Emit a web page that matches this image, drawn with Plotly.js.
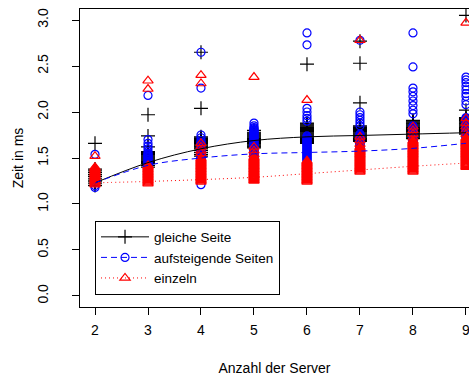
<!DOCTYPE html>
<html>
<head>
<meta charset="utf-8">
<script src="https://cdn.plot.ly/plotly-3.0.1.min.js"></script>
<style>html,body{margin:0;padding:0;background:#fff;}#chart{width:469px;height:376px;}</style>
</head>
<body>
<div id="chart"></div>
<script>
const serverCounts = [2, 3, 4, 5, 6, 7, 8, 9];
const seriesNames = ["gleiche Seite", "aufsteigende Seiten", "einzeln"];

// measured times (ms) per server count
const gleicheSeite = [
  [1.66, 1.38, 1.36, 1.34, 1.32, 1.30, 1.28, 1.26, 1.24, 1.22, 1.20],
  [1.97, 1.74, 1.62, 1.57, 1.56, 1.55, 1.54, 1.53, 1.52, 1.51, 1.50, 1.49, 1.48, 1.47, 1.46, 1.45, 1.44, 1.42, 1.40],
  [2.65, 2.04, 1.73, 1.72, 1.71, 1.70, 1.69, 1.68, 1.67, 1.66, 1.65, 1.64, 1.63, 1.62, 1.61, 1.60, 1.58, 1.56, 1.54, 1.52],
  [1.80, 1.78, 1.77, 1.76, 1.75, 1.74, 1.73, 1.72, 1.71, 1.70, 1.69, 1.68, 1.67, 1.66, 1.65, 1.64, 1.63, 1.62, 1.61],
  [2.52, 1.88, 1.87, 1.86, 1.85, 1.84, 1.83, 1.82, 1.81, 1.80, 1.79, 1.78, 1.77, 1.76, 1.75, 1.74, 1.73, 1.72, 1.71, 1.70, 1.69, 1.68, 1.67, 1.66],
  [2.77, 2.53, 2.10, 1.85, 1.84, 1.83, 1.82, 1.81, 1.80, 1.79, 1.78, 1.77, 1.76, 1.75, 1.74, 1.73, 1.72, 1.71, 1.70, 1.69, 1.68],
  [1.91, 1.90, 1.89, 1.88, 1.87, 1.86, 1.85, 1.84, 1.83, 1.82, 1.81, 1.80, 1.79, 1.78, 1.77, 1.76, 1.75, 1.74, 1.73, 1.72, 1.71],
  [3.05, 2.02, 1.94, 1.93, 1.92, 1.91, 1.90, 1.89, 1.88, 1.87, 1.86, 1.85, 1.84, 1.83, 1.82, 1.81, 1.80, 1.79, 1.78, 1.77, 1.76]
];
const aufsteigendeSeiten = [
  [1.54, 1.18, 1.20, 1.23, 1.26],
  [2.18, 1.70, 1.66, 1.63, 1.60, 1.57, 1.55, 1.54, 1.53, 1.52, 1.51, 1.50, 1.49, 1.48, 1.47, 1.46, 1.45, 1.44, 1.43, 1.42],
  [2.65, 2.26, 1.75, 1.72, 1.69, 1.67, 1.66, 1.65, 1.64, 1.63, 1.62, 1.61, 1.60, 1.59, 1.58, 1.57, 1.56, 1.55, 1.54, 1.53, 1.52, 1.51, 1.50, 1.49, 1.48, 1.47, 1.46, 1.45, 1.21],
  [1.88, 1.85, 1.83, 1.82, 1.81, 1.80, 1.79, 1.78, 1.77, 1.76, 1.75, 1.74, 1.73, 1.72, 1.71, 1.70, 1.69, 1.68, 1.67, 1.66, 1.65, 1.64, 1.63, 1.62, 1.61, 1.60, 1.59, 1.58, 1.57, 1.56, 1.55, 1.54, 1.53, 1.52, 1.51, 1.50, 1.49],
  [2.86, 2.73, 2.04, 2.00, 1.96, 1.93, 1.90, 1.74, 1.73, 1.72, 1.71, 1.70, 1.69, 1.68, 1.67, 1.66, 1.65, 1.64, 1.63, 1.62, 1.61, 1.60, 1.59, 1.58, 1.57, 1.56, 1.55, 1.54, 1.53, 1.52, 1.51, 1.50, 1.49, 1.48, 1.47],
  [2.78, 2.00, 1.97, 1.94, 1.91, 1.88, 1.85, 1.76, 1.75, 1.74, 1.73, 1.72, 1.71, 1.70, 1.69, 1.68, 1.67, 1.66, 1.65, 1.64, 1.63, 1.62, 1.61, 1.60, 1.59, 1.58],
  [2.86, 2.49, 2.26, 2.22, 2.17, 2.12, 2.07, 2.02, 1.98, 1.85, 1.84, 1.83, 1.82, 1.81, 1.80, 1.79, 1.78, 1.77, 1.76, 1.75, 1.74, 1.73, 1.72, 1.71, 1.70, 1.69, 1.68, 1.67, 1.66, 1.65, 1.64, 1.63],
  [2.38, 2.35, 2.32, 2.28, 2.24, 2.20, 2.17, 2.12, 2.08, 1.94, 1.93, 1.92, 1.91, 1.90, 1.89, 1.88, 1.87, 1.86, 1.85, 1.84, 1.83, 1.82, 1.81, 1.80, 1.79, 1.78, 1.77, 1.76, 1.75, 1.74, 1.73, 1.72]
];
const einzeln = [
  [1.52, 1.40, 1.39, 1.38, 1.37, 1.36, 1.35, 1.34, 1.33, 1.32, 1.31, 1.30, 1.29, 1.28, 1.27, 1.26, 1.25, 1.24, 1.23, 1.22, 1.21],
  [2.34, 2.25, 1.42, 1.41, 1.40, 1.39, 1.38, 1.37, 1.36, 1.35, 1.34, 1.33, 1.32, 1.31, 1.30, 1.29, 1.28, 1.27, 1.26, 1.25, 1.24, 1.23, 1.22],
  [2.40, 2.31, 1.66, 1.62, 1.58, 1.55, 1.50, 1.49, 1.48, 1.47, 1.46, 1.45, 1.44, 1.43, 1.42, 1.41, 1.40, 1.39, 1.38, 1.37, 1.36, 1.35, 1.34, 1.33, 1.32, 1.31, 1.30, 1.29, 1.28, 1.27, 1.26, 1.25, 1.24],
  [2.38, 1.62, 1.58, 1.54, 1.51, 1.50, 1.49, 1.48, 1.47, 1.46, 1.45, 1.44, 1.43, 1.42, 1.41, 1.40, 1.39, 1.38, 1.37, 1.36, 1.35, 1.34, 1.33, 1.32, 1.31, 1.30, 1.29, 1.28, 1.27, 1.26, 1.25],
  [2.13, 1.47, 1.46, 1.45, 1.44, 1.43, 1.42, 1.41, 1.40, 1.39, 1.38, 1.37, 1.36, 1.35, 1.34, 1.33, 1.32, 1.31, 1.30, 1.29, 1.28, 1.27, 1.26, 1.25, 1.24],
  [2.78, 1.73, 1.69, 1.65, 1.62, 1.61, 1.60, 1.59, 1.58, 1.57, 1.56, 1.55, 1.54, 1.53, 1.52, 1.51, 1.50, 1.49, 1.48, 1.47, 1.46, 1.45, 1.44, 1.43, 1.42, 1.41, 1.40, 1.39, 1.38, 1.37, 1.36, 1.35],
  [1.84, 1.80, 1.76, 1.72, 1.69, 1.68, 1.67, 1.66, 1.65, 1.64, 1.63, 1.62, 1.61, 1.60, 1.59, 1.58, 1.57, 1.56, 1.55, 1.54, 1.53, 1.52, 1.51, 1.50, 1.49, 1.48, 1.47, 1.46, 1.45, 1.44, 1.43, 1.42, 1.41, 1.40, 1.39, 1.38, 1.37, 1.36, 1.35],
  [2.97, 1.93, 1.88, 1.84, 1.80, 1.76, 1.72, 1.71, 1.70, 1.69, 1.68, 1.67, 1.66, 1.65, 1.64, 1.63, 1.62, 1.61, 1.60, 1.59, 1.58, 1.57, 1.56, 1.55, 1.54, 1.53, 1.52, 1.51, 1.50, 1.49, 1.48, 1.47, 1.46, 1.45, 1.44, 1.43, 1.42, 1.41, 1.40]
];

// fitted curves
const fitGleicheSeite = [1.23, 1.45, 1.60, 1.69, 1.73, 1.745, 1.76, 1.775];
const fitAufsteigendeSeiten = [1.23, 1.42, 1.50, 1.545, 1.56, 1.575, 1.605, 1.66];
const fitEinzeln = [1.23, 1.245, 1.265, 1.29, 1.33, 1.37, 1.41, 1.445];

const yTicks = [0, 0.5, 1, 1.5, 2, 2.5, 3];
const yTickText = ["0.0", "0.5", "1.0", "1.5", "2.0", "2.5", "3.0"];

function flatten(groups) {
  const xs = [], ys = [];
  groups.forEach((vals, i) => vals.forEach(v => { xs.push(serverCounts[i]); ys.push(v); }));
  return {x: xs, y: ys};
}

const styles = [
  {color: "#000000", symbol: "cross-thin-open", size: 10, dash: "solid"},
  {color: "#0000FF", symbol: "circle-open", size: 8, dash: "6px,4px"},
  {color: "#FF0000", symbol: "triangle-up-open", size: 9, dash: "1px,3px"}
];
const pointSets = [gleicheSeite, aufsteigendeSeiten, einzeln];
const fitSets = [fitGleicheSeite, fitAufsteigendeSeiten, fitEinzeln];

const traces = [];
pointSets.forEach((set, i) => {
  const f = flatten(set);
  traces.push({
    type: "scatter", mode: "markers", x: f.x, y: f.y, showlegend: false,
    marker: {symbol: styles[i].symbol, size: styles[i].size, color: styles[i].color,
             line: {color: styles[i].color, width: 1.2}},
    hoverinfo: "skip"
  });
});
fitSets.forEach((fit, i) => {
  traces.push({
    type: "scatter", mode: "lines", x: serverCounts, y: fit, showlegend: false,
    line: {color: styles[i].color, width: 1, dash: styles[i].dash, shape: "spline", smoothing: 1},
    hoverinfo: "skip"
  });
});
seriesNames.forEach((name, i) => {
  traces.push({
    type: "scatter", mode: "lines+markers", x: [null], y: [null], name: name,
    line: {color: styles[i].color, width: 1, dash: styles[i].dash},
    marker: {symbol: styles[i].symbol, size: styles[i].size, color: styles[i].color,
             line: {color: styles[i].color, width: 1.2}}
  });
});

const font = {family: "Liberation Sans, Arial, Helvetica, sans-serif", size: 14, color: "#000"};
const legendFont = {family: "Liberation Sans, Arial, Helvetica, sans-serif", size: 13.5, color: "#000"};

const layout = {
  width: 469, height: 376,
  margin: {l: 80, r: 0, t: 9, b: 69, pad: 0},
  paper_bgcolor: "#fff", plot_bgcolor: "#fff",
  font: font,
  showlegend: true,
  legend: {
    x: 0.0386, y: 0.29, xanchor: "left", yanchor: "top",
    bordercolor: "#000", borderwidth: 1, bgcolor: "#fff",
    font: legendFont, itemwidth: 48, traceorder: "normal", tracegroupgap: 0
  },
  xaxis: {
    range: [1.717, 9.057], tickvals: serverCounts, ticktext: serverCounts.map(String),
    showgrid: false, zeroline: false, showline: true, linecolor: "#000", linewidth: 1,
    mirror: true, ticks: "outside", ticklen: 7, tickcolor: "#000", tickwidth: 1,
    tickfont: font, automargin: false, ticklabelstandoff: 3, ticklabeloverflow: "allow",
    title: {text: "Anzahl der Server", font: font, standoff: 26}
  },
  yaxis: {
    range: [-0.12, 3.12], tickvals: yTicks, ticktext: yTickText, tickangle: -90,
    showgrid: false, zeroline: false, showline: true, linecolor: "#000", linewidth: 1,
    mirror: false, ticks: "outside", ticklen: 7, tickcolor: "#000", tickwidth: 1,
    tickfont: font, automargin: false, ticklabelstandoff: 18, ticklabeloverflow: "allow",
    title: {text: "Zeit in ms", font: font, standoff: 8}
  }
};

Plotly.newPlot("chart", traces, layout, {staticPlot: true, displayModeBar: false});
</script>
</body>
</html>
